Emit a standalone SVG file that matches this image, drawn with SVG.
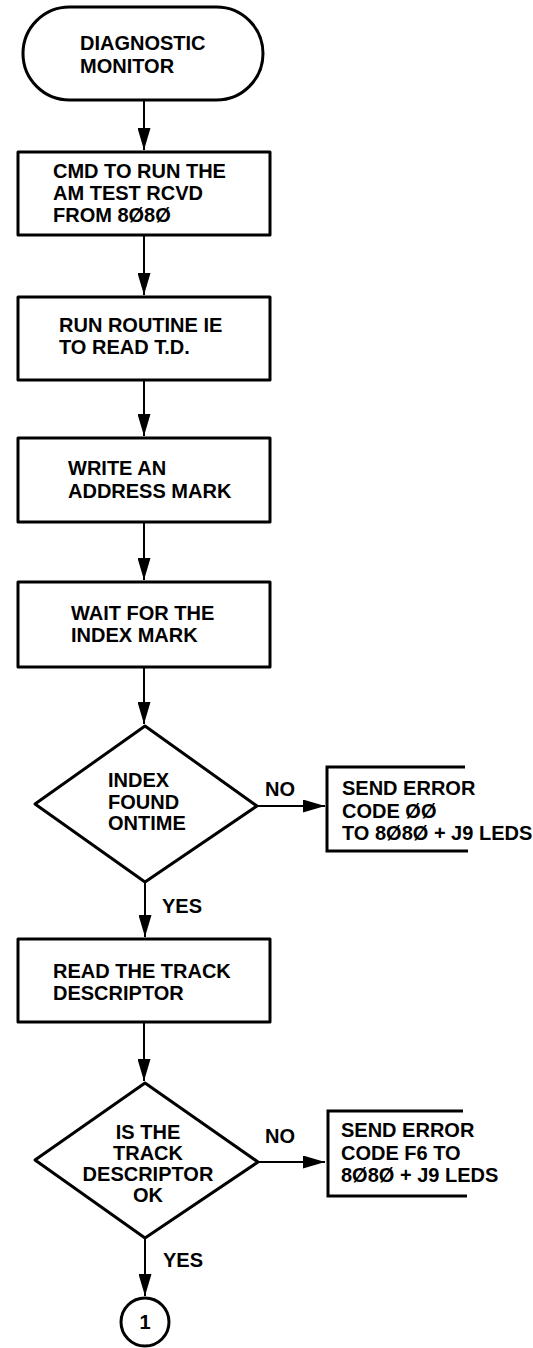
<svg xmlns="http://www.w3.org/2000/svg" width="533" height="1348" viewBox="0 0 533 1348">
<style>
.shape{fill:#fff;stroke:#000;stroke-width:3;stroke-linejoin:round}
.open{fill:none;stroke:#000;stroke-width:3}
.conn{fill:none;stroke:#000;stroke-width:2}
text{font-family:"Liberation Sans",Arial,Helvetica,sans-serif;font-size:20px;font-weight:bold;fill:#000}
.c{text-anchor:middle}
</style>
<defs>
<marker id="ah" viewBox="0 0 22 13" markerWidth="22" markerHeight="13" refX="22" refY="6.5" orient="auto" markerUnits="userSpaceOnUse">
<path d="M0,0 L22,6.5 L0,13 Z" fill="#000"/>
</marker>
</defs>
<g id="connectors">
<line class="conn" x1="144" y1="100" x2="144" y2="150" marker-end="url(#ah)"/>
<line class="conn" x1="144" y1="235" x2="144" y2="295" marker-end="url(#ah)"/>
<line class="conn" x1="144" y1="380" x2="144" y2="436" marker-end="url(#ah)"/>
<line class="conn" x1="144" y1="522" x2="144" y2="580" marker-end="url(#ah)"/>
<line class="conn" x1="144" y1="667" x2="144" y2="724" marker-end="url(#ah)"/>
<line class="conn" x1="257" y1="806" x2="325" y2="806" marker-end="url(#ah)"/>
<line class="conn" x1="145" y1="882" x2="145" y2="937" marker-end="url(#ah)"/>
<line class="conn" x1="144" y1="1022" x2="144" y2="1081" marker-end="url(#ah)"/>
<line class="conn" x1="258" y1="1162" x2="325" y2="1162" marker-end="url(#ah)"/>
<line class="conn" x1="145" y1="1238" x2="145" y2="1296" marker-end="url(#ah)"/>
<text x="265" y="796">NO</text>
<text x="162" y="913">YES</text>
<text x="265" y="1143">NO</text>
<text x="163" y="1267">YES</text>
</g>
<g id="start">
<rect class="shape" x="23" y="7" width="240" height="93" rx="46.5" ry="46.5"/>
<text x="80" y="50">DIAGNOSTIC</text>
<text x="80" y="73">MONITOR</text>
</g>
<g id="cmd">
<rect class="shape" x="18" y="152" width="252" height="83"/>
<text x="53" y="178">CMD TO RUN THE</text>
<text x="53" y="200">AM TEST RCVD</text>
<text x="53" y="222">FROM 8Ø8Ø</text>
</g>
<g id="routine">
<rect class="shape" x="18" y="297" width="252" height="83"/>
<text x="59" y="332">RUN ROUTINE IE</text>
<text x="59" y="354">TO READ T.D.</text>
</g>
<g id="write">
<rect class="shape" x="18" y="438" width="252" height="84"/>
<text x="68" y="475">WRITE AN</text>
<text x="68" y="498">ADDRESS MARK</text>
</g>
<g id="wait">
<rect class="shape" x="18" y="582" width="252" height="85"/>
<text x="71" y="620">WAIT FOR THE</text>
<text x="71" y="642">INDEX MARK</text>
</g>
<g id="index-found">
<polygon class="shape" points="145,726 257,806 145,882 35,804"/>
<text x="108" y="787">INDEX</text>
<text x="108" y="809">FOUND</text>
<text x="108" y="830">ONTIME</text>
</g>
<g id="error00">
<path class="open" d="M465,767 H327 V851 H468"/>
<text x="342" y="795">SEND ERROR</text>
<text x="342" y="818">CODE ØØ</text>
<text x="342" y="840">TO 8Ø8Ø + J9 LEDS</text>
</g>
<g id="read-td">
<rect class="shape" x="18" y="939" width="252" height="83"/>
<text x="53" y="978">READ THE TRACK</text>
<text x="53" y="1000">DESCRIPTOR</text>
</g>
<g id="td-ok">
<polygon class="shape" points="145,1083 258,1162 145,1238 35,1160"/>
<text class="c" x="148" y="1139">IS THE</text>
<text class="c" x="148" y="1160">TRACK</text>
<text class="c" x="148" y="1181">DESCRIPTOR</text>
<text class="c" x="148" y="1202">OK</text>
</g>
<g id="errorF6">
<path class="open" d="M463,1111 H328 V1196 H467"/>
<text x="341" y="1137">SEND ERROR</text>
<text x="341" y="1160">CODE F6 TO</text>
<text x="341" y="1182">8Ø8Ø + J9 LEDS</text>
</g>
<g id="connector-1">
<circle class="shape" cx="145" cy="1322" r="24"/>
<text class="c" x="145" y="1329">1</text>
</g>
</svg>
